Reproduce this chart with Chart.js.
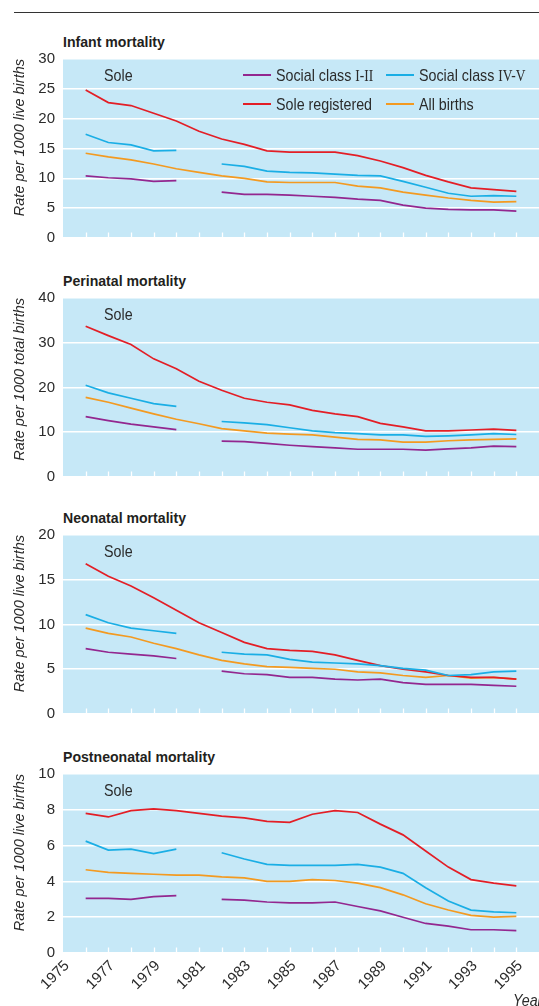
<!DOCTYPE html>
<html>
<head>
<meta charset="utf-8">
<script src="https://cdn.jsdelivr.net/npm/chart.js@4.4.1/dist/chart.umd.min.js"></script>
<style>
  html, body { margin: 0; padding: 0; background: #fff; }
  #wrap { position: relative; width: 539px; height: 1006px; overflow: hidden; background: #fff;
          font-family: "Liberation Sans", Arial, sans-serif; color: #2b2b2b; }
  .rule { position: absolute; left: 14px; top: 11.5px; width: 540px; height: 0; border-top: 1.3px solid #333; }
  .sx { position: absolute; white-space: nowrap; transform-origin: 0 50%; line-height: 20px; }
  .ptitle { left: 63px; font-weight: bold; font-size: 15px; color: #231f20; transform: scaleX(0.94); }
  .sole { left: 104px; font-size: 17px; color: #2b2b2b; transform: scaleX(0.84); }
  .holder { position: absolute; left: 0; width: 539px; }
  .leg { font-size: 17px; color: #2b2b2b; transform: scaleX(0.84); }
  .sw { position: absolute; height: 2px; width: 27.5px; }
  .rn { font-family: "Liberation Serif", "DejaVu Serif", serif; font-size: 16px; }
  .year { left: 513px; top: 990.5px; font-style: italic; font-size: 17px; color: #2b2b2b; transform: scaleX(0.84); }
</style>
</head>
<body>
<div id="wrap">
  <div class="rule"></div>
</div>
<script>
// ---- data ----
const years = [1976,1977,1978,1979,1980,1981,1982,1983,1984,1985,1986,1987,1988,1989,1990,1991,1992,1993,1994,1995];
const xTickLabels = ['1975','1977','1979','1981','1983','1985','1987','1989','1991','1993','1995'];
const seriesNames = ['Social class I-II', 'Social class IV-V', 'Sole registered', 'All births'];
const panelTitles = ['Infant mortality', 'Perinatal mortality', 'Neonatal mortality', 'Postneonatal mortality'];
const axisTitles = ['Rate per 1000 live births', 'Rate per 1000 total births', 'Rate per 1000 live births', 'Rate per 1000 live births'];
const yMax = [30, 40, 20, 10];
const yStep = [5, 10, 5, 2];

const infantClass12 = [10.4,10.1,9.9,9.5,9.6,null,7.7,7.3,7.3,7.2,7.0,6.8,6.5,6.3,5.5,5.0,4.8,4.7,4.7,4.5];
const infantClass45 = [17.4,16.0,15.6,14.6,14.7,null,12.4,12.0,11.2,11.0,10.9,10.7,10.5,10.4,9.5,8.5,7.5,7.0,7.1,7.0];
const infantSole    = [24.8,22.7,22.2,20.9,19.6,17.9,16.6,15.7,14.6,14.4,14.4,14.4,13.8,12.9,11.8,10.5,9.4,8.4,8.1,7.8];
const infantAll     = [14.2,13.6,13.1,12.4,11.6,11.0,10.4,10.0,9.4,9.3,9.3,9.3,8.7,8.4,7.7,7.2,6.7,6.3,6.0,6.1];

const perinatalClass12 = [13.5,12.6,11.8,11.2,10.6,null,8.0,7.9,7.5,7.1,6.8,6.5,6.2,6.2,6.2,6.0,6.3,6.5,6.9,6.8];
const perinatalClass45 = [20.5,18.8,17.6,16.4,15.8,null,12.4,12.1,11.7,11.0,10.3,9.9,9.7,9.4,9.4,9.1,9.2,9.4,9.7,9.5];
const perinatalSole    = [33.7,31.6,29.6,26.4,24.2,21.4,19.4,17.6,16.7,16.1,14.9,14.1,13.5,12.0,11.2,10.3,10.3,10.5,10.7,10.4];
const perinatalAll     = [17.8,16.7,15.4,14.1,12.9,11.9,10.8,10.3,9.8,9.6,9.4,8.9,8.4,8.3,7.8,7.8,8.1,8.3,8.4,8.5];

const neonatalClass12 = [7.3,6.9,6.7,6.5,6.2,null,4.8,4.5,4.4,4.1,4.1,3.9,3.8,3.9,3.5,3.3,3.3,3.3,3.2,3.1];
const neonatalClass45 = [11.1,10.2,9.6,9.3,9.0,null,6.9,6.7,6.6,6.1,5.8,5.7,5.6,5.4,5.1,4.9,4.3,4.4,4.7,4.8];
const neonatalSole    = [16.8,15.4,14.3,13.0,11.6,10.2,9.1,8.0,7.3,7.1,7.0,6.6,6.0,5.4,5.0,4.7,4.3,4.1,4.1,3.9];
const neonatalAll     = [9.6,9.0,8.6,7.9,7.3,6.6,6.0,5.6,5.3,5.2,5.1,5.0,4.7,4.6,4.3,4.1,4.3,4.0,4.1,3.9];

const postClass12 = [3.05,3.05,3.0,3.15,3.2,null,3.0,2.95,2.85,2.8,2.8,2.85,2.6,2.35,2.0,1.65,1.5,1.3,1.3,1.25];
const postClass45 = [6.25,5.75,5.8,5.55,5.8,null,5.6,5.25,4.95,4.9,4.9,4.9,4.95,4.8,4.45,3.65,2.9,2.4,2.3,2.25];
const postSole    = [7.8,7.6,7.95,8.05,7.95,7.8,7.65,7.55,7.35,7.3,7.75,7.95,7.85,7.2,6.6,5.7,4.8,4.1,3.9,3.75];
const postAll     = [4.65,4.5,4.45,4.4,4.35,4.35,4.25,4.2,4.0,4.0,4.1,4.05,3.9,3.65,3.25,2.75,2.4,2.1,2.0,2.05];

const panelData = [
  [infantClass12, infantClass45, infantSole, infantAll],
  [perinatalClass12, perinatalClass45, perinatalSole, perinatalAll],
  [neonatalClass12, neonatalClass45, neonatalSole, neonatalAll],
  [postClass12, postClass45, postSole, postAll]
];

// ---- styles ----
const colors = ['#93278f', '#1aaee5', '#e31e26', '#f39a21'];
const bgColor = '#c6e8f7';
const FONT = '"Liberation Sans", Arial, sans-serif';
const plotTops = [59, 298, 535, 774];
const plotH = 179;
const PAD = 12;

const bgPlugin = {
  id: 'panelBg',
  beforeDraw(chart) {
    const a = chart.chartArea, ctx = chart.ctx;
    ctx.save();
    ctx.fillStyle = bgColor;
    ctx.fillRect(a.left, a.top, a.right - a.left, a.bottom - a.top);
    ctx.restore();
  },
  beforeDatasetsDraw(chart) {
    const a = chart.chartArea, ctx = chart.ctx, xs = chart.scales.x;
    ctx.save();
    ctx.strokeStyle = '#ffffff';
    ctx.lineWidth = 1.3;
    xs.ticks.forEach(t => {
      if (t.value > xs.min && t.value <= 1995) {
        const px = Math.round(xs.getPixelForValue(t.value)) + 0.5;
        ctx.beginPath();
        ctx.moveTo(px, a.bottom);
        ctx.lineTo(px, a.bottom - 5.5);
        ctx.stroke();
      }
    });
    ctx.restore();
  }
};

const wrap = document.getElementById('wrap');
function addText(cls, left, top, html) {
  const d = document.createElement('div');
  d.className = 'sx ' + cls;
  if (left !== null) d.style.left = left + 'px';
  d.style.top = top + 'px';
  d.innerHTML = html;
  wrap.appendChild(d);
  return d;
}

panelData.forEach((series, p) => {
  const last = p === panelData.length - 1;
  const top = plotTops[p];

  addText('ptitle', null, top - 27.5, panelTitles[p]);

  const xH = last ? 53 : 0;
  const holder = document.createElement('div');
  holder.className = 'holder';
  holder.style.top = (top - PAD) + 'px';
  const cH = PAD + plotH + (last ? xH : PAD);
  holder.style.height = cH + 'px';
  const cv = document.createElement('canvas');
  cv.width = 539; cv.height = cH;
  cv.style.width = '539px'; cv.style.height = cH + 'px';
  holder.appendChild(cv);
  wrap.appendChild(holder);

  addText('sole', null, top + 7, 'Sole');

  new Chart(cv, {
    type: 'line',
    data: {
      datasets: series.map((arr, i) => ({
        label: seriesNames[i],
        data: years.map((yr, k) => ({ x: yr, y: arr[k] })),
        borderColor: colors[i],
        backgroundColor: colors[i],
        borderWidth: 1.7,
        pointRadius: 0,
        tension: 0,
        spanGaps: false,
        fill: false
      }))
    },
    options: {
      responsive: false,
      animation: false,
      devicePixelRatio: 1,
      layout: { padding: { top: PAD, bottom: last ? 0 : PAD, left: 0, right: 0 } },
      plugins: { legend: { display: false }, tooltip: { enabled: false } },
      scales: {
        x: {
          type: 'linear',
          min: 1975, max: 1996,
          grid: { display: false, drawTicks: false },
          border: { display: false },
          ticks: {
            display: last,
            stepSize: 1,
            autoSkip: false,
            maxRotation: 45, minRotation: 45,
            padding: 4,
            labelOffset: 4,
            color: '#2b2b2b',
            font: { family: FONT, size: 15 },
            callback: (v) => xTickLabels.includes(String(v)) ? String(v) : ''
          },
          afterFit(sc) { sc.height = xH; sc.paddingLeft = 0; sc.paddingRight = 0; }
        },
        y: {
          min: 0, max: yMax[p],
          grid: { color: '#ffffff', lineWidth: 1.6, drawTicks: false },
          border: { display: false },
          ticks: {
            stepSize: yStep[p],
            padding: 8,
            color: '#2b2b2b',
            font: { family: FONT, size: 15 }
          },
          title: {
            display: true,
            text: axisTitles[p],
            align: 'end',
            color: '#2b2b2b',
            padding: { top: 11, bottom: 0 },
            font: { family: FONT, size: 14.5, style: 'italic' }
          },
          afterFit(sc) { sc.width = 63; sc.paddingTop = 0; sc.paddingBottom = 0; }
        }
      }
    },
    plugins: [bgPlugin]
  });
});

// legend (first panel)
const legItems = [
  { i: 0, x: 243, y: 75, html: 'Social class <span class="rn">I-II</span>' },
  { i: 1, x: 386, y: 75, html: 'Social class <span class="rn">IV-V</span>' },
  { i: 2, x: 243, y: 104, html: seriesNames[2] },
  { i: 3, x: 386, y: 104, html: seriesNames[3] }
];
legItems.forEach(it => {
  const sw = document.createElement('div');
  sw.className = 'sw';
  sw.style.left = it.x + 'px';
  sw.style.top = (it.y - 1.5) + 'px';
  sw.style.background = colors[it.i];
  wrap.appendChild(sw);
  addText('leg', it.x + 33, it.y - 9.5, it.html);
});

addText('year', null, 990.5, 'Year');
</script>
</body>
</html>
